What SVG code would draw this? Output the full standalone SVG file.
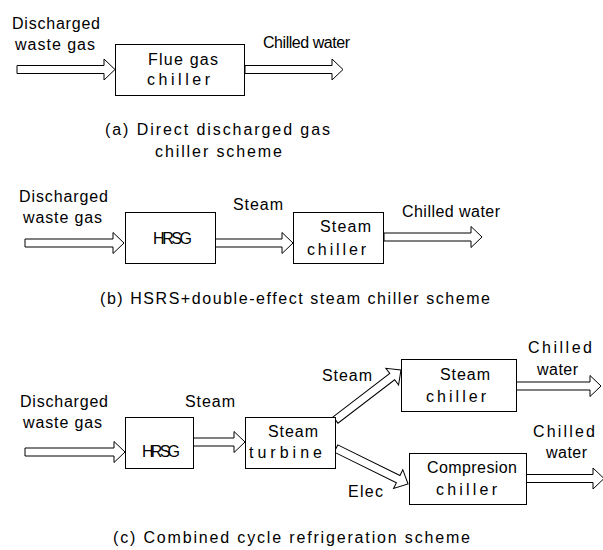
<svg xmlns="http://www.w3.org/2000/svg" width="603" height="550" viewBox="0 0 603 550">
<style>
.box{fill:#fff;stroke:#000;stroke-width:1}
.arr{fill:#fff;stroke:#000;stroke-width:1;stroke-linejoin:miter}
text{font-family:"Liberation Sans Narrow","Liberation Sans",Arial,sans-serif;font-size:16px;fill:#000}
</style>
<rect width="603" height="550" fill="#fff"/>
<g id="connectors">
<polygon class="arr" points="17,65.5 104,65.5 104,59 115,69.5 104,80 104,73.5 17,73.5"/>
<polygon class="arr" points="245,65.5 332,65.5 332,59 343,69.5 332,80 332,73.5 245,73.5"/>
<polygon class="arr" points="25,239 113,239 113,232.5 124,243 113,253.5 113,247 25,247"/>
<polygon class="arr" points="215,239 282,239 282,232.5 293,243 282,253.5 282,247 215,247"/>
<polygon class="arr" points="384,233 471,233 471,226.5 482,237 471,247.5 471,241 384,241"/>
<polygon class="arr" points="25,448 114,448 114,441.5 125,452 114,462.5 114,456 25,456"/>
<polygon class="arr" points="193,438 234,438 234,431.5 245,442 234,452.5 234,446 193,446"/>
<polygon class="arr" transform="translate(335.5,420) rotate(-37.4)" points="0,-4 71.4,-4 71.4,-10.5 82.4,0 71.4,10.5 71.4,4 0,4"/>
<polygon class="arr" transform="translate(336,448.5) rotate(26.2)" points="0,-4 69.3,-4 69.3,-10.5 80.3,0 69.3,10.5 69.3,4 0,4"/>
<polygon class="arr" points="516,382 590,382 590,375.5 601,386 590,396.5 590,390 516,390"/>
<polygon class="arr" points="526,474.5 593,474.5 593,468 604,478.5 593,489 593,482.5 526,482.5"/>
</g>
<g id="labels">
<text x="12" y="29" textLength="88" lengthAdjust="spacing">Discharged</text>
<text x="15" y="50" textLength="80" lengthAdjust="spacing">waste gas</text>
<text x="263" y="48" textLength="87" lengthAdjust="spacing">Chilled water</text>
<text x="105" y="135" textLength="225" lengthAdjust="spacing">(a) Direct discharged gas</text>
<text x="155" y="157" textLength="127" lengthAdjust="spacing">chiller scheme</text>
<text x="19" y="202" textLength="89" lengthAdjust="spacing">Discharged</text>
<text x="23" y="223" textLength="79" lengthAdjust="spacing">waste gas</text>
<text x="233" y="210" textLength="50" lengthAdjust="spacing">Steam</text>
<text x="402" y="217" textLength="98" lengthAdjust="spacing">Chilled water</text>
<text x="100" y="304" textLength="390" lengthAdjust="spacing">(b) HSRS+double-effect steam chiller scheme</text>
<text x="20" y="407" textLength="88" lengthAdjust="spacing">Discharged</text>
<text x="23" y="428" textLength="79" lengthAdjust="spacing">waste gas</text>
<text x="185" y="407" textLength="50" lengthAdjust="spacing">Steam</text>
<text x="322" y="381" textLength="50" lengthAdjust="spacing">Steam</text>
<text x="348" y="497" textLength="35" lengthAdjust="spacing">Elec</text>
<text x="528" y="353" textLength="64" lengthAdjust="spacing">Chilled</text>
<text x="537" y="375" textLength="41" lengthAdjust="spacing">water</text>
<text x="533" y="437" textLength="62" lengthAdjust="spacing">Chilled</text>
<text x="546" y="458" textLength="41" lengthAdjust="spacing">water</text>
<text x="113" y="543" textLength="357" lengthAdjust="spacing">(c) Combined cycle refrigeration scheme</text>
</g>
<g id="flue-gas-chiller">
<rect class="box" x="115.5" y="44.5" width="129" height="51"/>
<text x="148" y="65" textLength="70" lengthAdjust="spacing">Flue gas</text>
<text x="147" y="85" textLength="63" lengthAdjust="spacing">chiller</text>
</g>
<g id="hrsg-b">
<rect class="box" x="125.5" y="212.5" width="90" height="51"/>
<text x="153" y="244" textLength="39" lengthAdjust="spacing">HRSG</text>
</g>
<g id="steam-chiller-b">
<rect class="box" x="293.5" y="212.5" width="90" height="51"/>
<text x="320" y="232" textLength="51" lengthAdjust="spacing">Steam</text>
<text x="307" y="255" textLength="59" lengthAdjust="spacing">chiller</text>
</g>
<g id="hrsg-c">
<rect class="box" x="125.5" y="417.5" width="68" height="51"/>
<text x="142" y="457" textLength="38" lengthAdjust="spacing">HRSG</text>
</g>
<g id="steam-turbine">
<rect class="box" x="245.5" y="417.5" width="90" height="51"/>
<text x="268" y="437" textLength="50" lengthAdjust="spacing">Steam</text>
<text x="249" y="458" textLength="73" lengthAdjust="spacing">turbine</text>
</g>
<g id="steam-chiller-c">
<rect class="box" x="401.5" y="359.5" width="115" height="52"/>
<text x="440" y="380" textLength="50" lengthAdjust="spacing">Steam</text>
<text x="426" y="402" textLength="60" lengthAdjust="spacing">chiller</text>
</g>
<g id="compression-chiller">
<rect class="box" x="409.5" y="453.5" width="117" height="51"/>
<text x="427" y="473" textLength="90" lengthAdjust="spacing">Compresion</text>
<text x="436" y="495" textLength="61" lengthAdjust="spacing">chiller</text>
</g>
</svg>
